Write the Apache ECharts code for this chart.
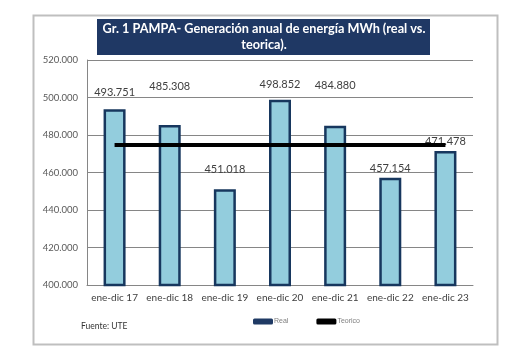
<!DOCTYPE html>
<html>
<head>
<meta charset="utf-8">
<script src="https://cdn.jsdelivr.net/npm/echarts@6/dist/echarts.min.js"></script>
<style>
  html, body { margin: 0; padding: 0; background: #fff; }
  #chart { width: 513px; height: 352px; }
</style>
</head>
<body>
<div id="chart"></div>
<script>
// datos
var categories = ['ene-dic 17', 'ene-dic 18', 'ene-dic 19', 'ene-dic 20', 'ene-dic 21', 'ene-dic 22', 'ene-dic 23'];
var realValues = [493751, 485308, 451018, 498852, 484880, 457154, 471478];
var teoricoValues = [474700, 474700, 474700, 474700, 474700, 474700, 474700];
var yTicks = { min: 400000, max: 520000, interval: 20000 };

// how far each label sits above its bar (px), like the excel original
var labelLift = [7, 29, 10, 6, 31, 0, 0];

function fmt(v) {
    return String(v).replace(/\B(?=(\d{3})+(?!\d))/g, '.');
}

var chart = echarts.init(document.getElementById('chart'));

var barData = realValues.map(function (v, i) {
    return { value: v, label: { offset: [0, -labelLift[i]] } };
});

chart.setOption({
    animation: false,
    backgroundColor: '#fff',
    grid: { left: 87, right: 40, top: 60, bottom: 67 },
    legend: {
        left: 248,
        top: 313,
        itemWidth: 20,
        itemHeight: 6,
        itemGap: 28,
        textStyle: { fontSize: 7, color: '#7f7f7f', fontFamily: 'Liberation Sans', padding: [0, 0, 0, -4] },
        data: [
            { name: 'Real', icon: 'roundRect', itemStyle: { color: '#1f3a64', borderWidth: 0 } },
            { name: 'Teorico', icon: 'roundRect', itemStyle: { color: '#000', borderWidth: 0 } }
        ]
    },
    xAxis: {
        type: 'category',
        data: categories,
        axisTick: { show: false },
        axisLine: { lineStyle: { color: '#868686', width: 1 } },
        axisLabel: { color: '#404040', fontSize: 10, fontFamily: 'Lato', margin: 8, interval: 0 }
    },
    yAxis: {
        type: 'value',
        min: yTicks.min,
        max: yTicks.max,
        interval: yTicks.interval,
        axisLine: { show: true, lineStyle: { color: '#868686', width: 1 } },
        axisTick: { show: false },
        splitLine: { lineStyle: { color: '#868686', width: 1 } },
        axisLabel: {
            color: '#595959',
            fontSize: 9.5,
            fontFamily: 'Lato',
            margin: 9,
            formatter: function (v) { return fmt(v); }
        }
    },
    series: [
        {
            name: 'Real',
            type: 'bar',
            barWidth: 22,
            data: barData,
            itemStyle: { color: '#93cddd', borderColor: '#17375e', borderWidth: 2.5 },
            label: {
                show: true,
                position: 'top',
                distance: 4,
                color: '#404040',
                fontSize: 11,
                fontFamily: 'Lato',
                formatter: function (p) { return fmt(p.value); }
            },
            z: 2
        },
        {
            name: 'Teorico',
            type: 'line',
            data: teoricoValues,
            symbol: 'none',
            lineStyle: { color: '#000', width: 4 },
            itemStyle: { color: '#000' },
            z: 3
        }
    ],
    graphic: [
        {
            type: 'rect',
            left: 31, top: 13,
            shape: { width: 464, height: 329 },
            style: { fill: 'none', stroke: '#bfbfbf', lineWidth: 2 },
            silent: true
        },
        {
            type: 'rect',
            left: 97, top: 19,
            shape: { width: 333, height: 36 },
            style: { fill: '#1f3864' }
        },
        {
            type: 'text',
            x: 264,
            y: 21,
            style: {
                text: 'Gr. 1 PAMPA- Generación anual de energía MWh (real vs.\nteorica).',
                fill: '#fff',
                font: 'bold 12.7px Lato',
                align: 'center',
                lineHeight: 16
            }
        },
        {
            type: 'text',
            left: 81, top: 322,
            style: { text: 'Fuente: UTE', fill: '#333', font: '8.5px Lato' }
        }
    ]
});
</script>
</body>
</html>
